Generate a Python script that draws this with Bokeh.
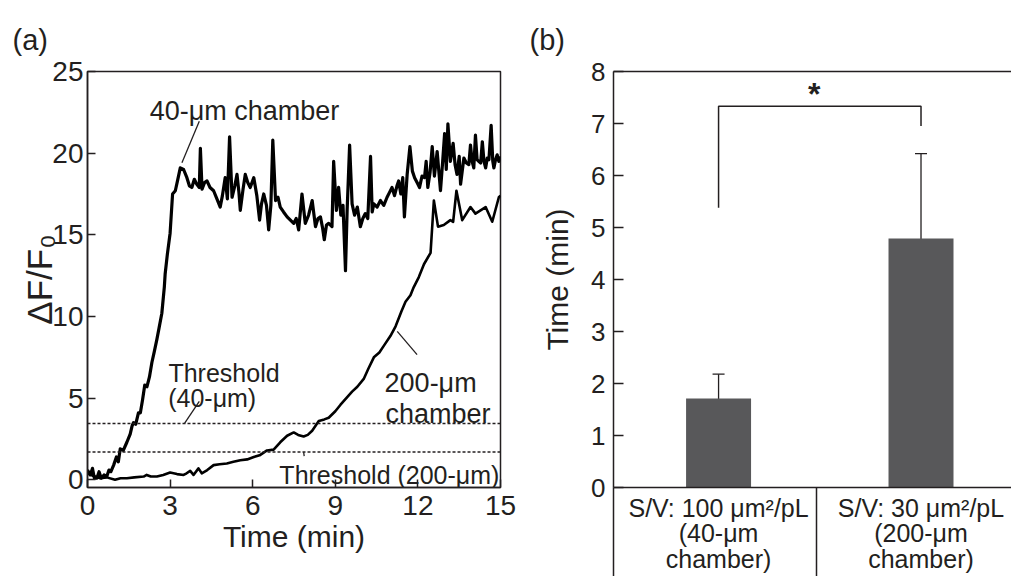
from bokeh.plotting import figure
from bokeh.models import (Range1d, FixedTicker, Span, ColumnDataSource,
                          Whisker, TeeHead, LinearAxis)
from bokeh.layouts import row
from bokeh.embed import file_html
from bokeh.resources import INLINE
from bokeh.core.properties import value

FONT = "Liberation Sans"
INK = "#231f20"

# ---------------- Panel (a) data ----------------
t_40 = [0.00, 0.10, 0.18, 0.25, 0.34, 0.42, 0.50, 0.60, 0.70, 0.78, 0.85, 0.95, 1.05, 1.12,
        1.19, 1.30, 1.43, 1.55, 1.62, 1.67, 1.75, 1.85, 1.92, 2.00, 2.08, 2.16, 2.25, 2.34,
        2.42, 2.52, 2.60, 2.70, 2.79, 2.82, 2.90, 3.00, 3.09, 3.19, 3.28, 3.37, 3.49, 3.61,
        3.70, 3.79, 3.88, 3.97, 4.06, 4.10, 4.16, 4.25, 4.34, 4.45, 4.58, 4.70, 4.82, 4.90,
        5.00, 5.08, 5.16, 5.25, 5.35, 5.43, 5.50, 5.55, 5.65, 5.73, 5.82, 5.91, 6.04, 6.15,
        6.25, 6.32, 6.40, 6.50, 6.58, 6.66, 6.73, 6.83, 6.92, 7.00, 7.12, 7.25, 7.37, 7.49,
        7.58, 7.67, 7.79, 7.91, 8.03, 8.16, 8.28, 8.37, 8.46, 8.54, 8.60, 8.68, 8.76, 8.88,
        8.94, 9.04, 9.12, 9.20, 9.28, 9.37, 9.43, 9.52, 9.61, 9.70, 9.80, 9.91, 10.00, 10.09,
        10.18, 10.28, 10.34, 10.40, 10.52, 10.64, 10.76, 10.88, 10.97, 11.06, 11.15, 11.24,
        11.30, 11.38, 11.45, 11.51, 11.61, 11.71, 11.80, 11.88, 11.97, 12.06, 12.15, 12.24,
        12.30, 12.36, 12.44, 12.52, 12.60, 12.70, 12.76, 12.82, 12.90, 12.97, 13.03, 13.09,
        13.18, 13.28, 13.35, 13.42, 13.50, 13.55, 13.67, 13.76, 13.85, 13.91, 13.97, 14.03,
        14.09, 14.15, 14.21, 14.28, 14.34, 14.40, 14.46, 14.52, 14.58, 14.66, 14.72, 14.76,
        14.82, 14.88, 14.94, 15.00]
f_40 = [0.6, 0.3, 0.7, 0.1, 0.1, 0.5, 0.1, 0.3, 0.2, 0.6, 0.5, 0.9, 1.4, 1.1,
        1.9, 1.8, 2.3, 2.8, 3.3, 3.5, 3.4, 4.1, 4.1, 4.9, 5.8, 5.7, 6.3, 7.2,
        7.8, 8.6, 9.3, 10.2, 11.8, 12.6, 13.8, 15.1, 17.5, 17.7, 18.4, 19.1, 19.0, 18.5,
        18.0, 17.9, 18.4, 18.1, 17.9, 20.3, 17.8, 18.2, 18.3, 17.9, 17.7, 17.2, 16.7, 17.4,
        18.5, 17.2, 21.0, 17.3, 18.0, 18.7, 17.6, 16.5, 17.8, 18.7, 18.2, 17.9, 18.5, 17.4,
        15.9, 16.9, 17.5, 16.8, 15.3, 16.8, 20.8, 17.1, 17.3, 16.7, 16.4, 16.1, 15.9, 15.7,
        16.0, 15.3, 17.5, 15.7, 16.2, 17.1, 15.5, 16.0, 16.1, 15.4, 14.7, 15.6, 15.7, 15.5,
        19.5, 16.5, 17.9, 16.2, 16.8, 12.8, 16.5, 20.5, 16.9, 16.2, 16.7, 15.5, 16.0, 16.3,
        16.0, 19.8, 16.4, 16.9, 16.7, 17.1, 16.8, 17.3, 17.6, 17.9, 17.4, 18.0,
        18.3, 17.5, 18.5, 16.1, 18.7, 20.4, 18.9, 18.5, 18.2, 17.9, 18.6, 18.5,
        19.5, 17.9, 18.8, 20.4, 18.6, 20.1, 18.9, 17.7, 19.5, 21.2, 19.0, 21.8,
        19.5, 20.6, 19.3, 18.7, 19.8, 18.1, 19.7, 19.4, 19.3, 20.5, 19.5, 19.1,
        21.1, 19.6, 19.5, 19.4, 20.7, 19.5, 19.1, 19.7, 19.6, 21.7, 19.5, 19.1,
        19.6, 19.9, 19.5, 19.8]

t_200 = [0.00, 0.20, 0.46, 0.70, 1.00, 1.20, 1.43, 1.70, 2.04, 2.15, 2.30, 2.52, 2.75, 3.00,
         3.25, 3.49, 3.60, 3.73, 3.85, 4.03, 4.15, 4.35, 4.58, 4.80, 5.06, 5.30, 5.55, 5.80,
         6.04, 6.25, 6.52, 6.76, 7.00, 7.25, 7.49, 7.65, 7.85, 8.00, 8.16, 8.40, 8.60, 8.76,
         9.00, 9.19, 9.40, 9.61, 9.80, 10.04, 10.20, 10.40, 10.60, 10.76, 11.00, 11.19, 11.40,
         11.55, 11.73, 11.85, 12.03, 12.22, 12.46, 12.58, 12.73, 12.94, 13.18, 13.28, 13.40,
         13.61, 13.91, 14.09, 14.46, 14.70, 14.94, 15.00]
f_200 = [0.40, 0.25, 0.10, 0.15, 0.00, 0.10, 0.10, 0.15, 0.20, 0.30, 0.20, 0.20, 0.30, 0.45,
         0.35, 0.30, 0.40, 0.55, 0.30, 0.70, 0.40, 0.60, 0.90, 0.95, 1.00, 1.10, 1.20, 1.25,
         1.40, 1.50, 1.80, 1.85, 2.30, 2.70, 2.90, 2.75, 2.65, 2.75, 3.00, 3.60, 3.70, 3.80,
         4.20, 4.60, 5.00, 5.40, 5.70, 6.20, 6.80, 7.50, 7.80, 8.20, 8.80, 9.40, 10.30,
         10.90, 11.30, 11.80, 12.40, 13.20, 13.90, 17.10, 15.50, 15.60, 15.90, 15.80, 17.70,
         15.90, 16.70, 16.30, 16.70, 15.80, 17.30, 17.40]

thresholds = [3.45, 1.70]
x_ticks_a = [0, 3, 6, 9, 12, 15]
y_ticks_a = [0, 5, 10, 15, 20, 25]

# ---------------- Panel (b) data ----------------
bar_x = [0, 1]
times = [1.71, 4.79]
err_low = [1.24, 3.12]
err_high = [2.18, 6.42]
y_ticks_b = [0, 1, 2, 3, 4, 5, 6, 7, 8]
cat_labels = ["S/V: 100 \u03bcm\u00b2/pL\n(40-\u03bcm\nchamber)",
              "S/V: 30 \u03bcm\u00b2/pL\n(200-\u03bcm\nchamber)"]
cell_edges = [-0.5185, 0.486]
bracket_x = [0, 0, 1, 1]
bracket_y = [5.38, 7.33, 7.33, 6.95]


def style_axis(ax, size):
    ax.axis_line_color = INK
    ax.axis_line_width = 1.5
    ax.major_tick_line_color = INK
    ax.major_tick_line_width = 1.5
    ax.major_tick_out = 0
    ax.minor_tick_line_color = None
    ax.major_label_text_font = FONT
    ax.major_label_text_font_size = size
    ax.major_label_text_color = INK
    ax.axis_label_text_font = FONT
    ax.axis_label_text_font_style = "normal"
    ax.axis_label_text_color = INK


def style_title(p, text, offset):
    p.title.text = text
    p.title.align = "left"
    p.title.vertical_align = "top"
    p.title.offset = offset
    p.title.standoff = 28
    p.title.text_font = FONT
    p.title.text_font_size = "29px"
    p.title.text_font_style = "normal"
    p.title.text_color = INK


# ---------------- Panel (a) ----------------
p1 = figure(width=520, height=576, x_range=Range1d(0, 15), y_range=Range1d(-0.47, 25),
            output_backend="svg", toolbar_location=None,
            min_border_left=87, min_border_right=20, min_border_top=71, min_border_bottom=87)
p1.grid.visible = False
p1.outline_line_color = INK
p1.outline_line_width = 1.5
p1.outline_line_alpha = 1.0
style_title(p1, "(a)", -75)

p1.xaxis.ticker = FixedTicker(ticks=x_ticks_a)
p1.yaxis.ticker = FixedTicker(ticks=y_ticks_a)
for ax in (p1.xaxis[0], p1.yaxis[0]):
    style_axis(ax, "28px")
    ax.major_tick_in = 8
p1.xaxis.axis_label = "Time (min)"
p1.xaxis.axis_label_text_font_size = "30px"
p1.xaxis.major_label_standoff = 8
p1.xaxis.axis_label_standoff = 2
p1.yaxis.axis_label = "\u0394F/F\u2080"
p1.yaxis.axis_label_text_font_size = "35px"
p1.yaxis.major_label_standoff = 4
p1.yaxis.axis_label_standoff = -10

for th in thresholds:
    p1.add_layout(Span(location=th, dimension="width", line_color=INK,
                       line_width=1.4, line_dash="3 2"))

p1.line(t_200, f_200, line_color="black", line_width=2.6, line_join="round")
p1.line(t_40, f_40, line_color="black", line_width=3.2, line_join="round")

# annotation leaders
p1.segment(x0=[4.06, 4.06, 11.25, 7.85], y0=[21.95, 4.8, 9.09, 1.70],
           x1=[3.43, 3.53, 11.97, 7.87], y1=[19.42, 3.47, 7.67, 1.45],
           line_color=INK, line_width=1.3)


def txt(fig, x, y, s, size, align="left", baseline="alphabetic"):
    fig.text(x=[x], y=[y], text=[s], text_font=value(FONT), text_font_size=size,
             text_color=INK, text_align=align, text_baseline=baseline)


txt(p1, 5.70, 22.56, "40-\u03bcm chamber", "27px", "center")
txt(p1, 2.94, 6.56, "Threshold", "25px")
txt(p1, 2.93, 5.00, "(40-\u03bcm)", "25px")
txt(p1, 10.79, 5.95, "200-\u03bcm", "27px")
txt(p1, 10.82, 4.03, "chamber", "27px")
txt(p1, 14.96, 0.28, "Threshold (200-\u03bcm)", "25px", "right")

# ---------------- Panel (b) ----------------
p2 = figure(width=491, height=576, x_range=Range1d(-0.519, 1.447), y_range=Range1d(0, 8),
            output_backend="svg", toolbar_location=None,
            min_border_left=93, min_border_right=0, min_border_top=71, min_border_bottom=87)
p2.grid.visible = False
p2.outline_line_color = None
style_title(p2, "(b)", -84)

p2.yaxis.ticker = FixedTicker(ticks=y_ticks_b)
style_axis(p2.yaxis[0], "26px")
p2.yaxis.major_tick_in = 10
p2.yaxis.major_label_standoff = 8
p2.yaxis.axis_label = "Time (min)"
p2.yaxis.axis_label_text_font_size = "30px"
p2.yaxis.axis_label_standoff = 14

xa = p2.xaxis[0]
style_axis(xa, "25px")
xa.ticker = FixedTicker(ticks=bar_x, minor_ticks=cell_edges)
xa.major_label_overrides = {bar_x[i]: cat_labels[i] for i in range(len(bar_x))}
xa.major_tick_in = 0
xa.major_tick_out = 0
xa.minor_tick_line_color = INK
xa.minor_tick_line_width = 1.5
xa.minor_tick_in = 0
xa.minor_tick_out = 90
xa.major_label_standoff = -84
xa.major_label_text_line_height = 0.92

top_axis = LinearAxis(ticker=FixedTicker(ticks=[]), major_label_text_font_size="0px",
                      major_label_standoff=0,
                      axis_line_color=INK, axis_line_width=1.5,
                      major_tick_line_color=None, minor_tick_line_color=None)
p2.add_layout(top_axis, "above")

p2.vbar(x=bar_x, top=times, bottom=0, width=0.321, fill_color="#58585a", line_color=None)

src = ColumnDataSource(data=dict(x=bar_x, lower=err_low, upper=err_high))
p2.add_layout(Whisker(source=src, base="x", lower="lower", upper="upper",
                      line_color=INK, line_width=1.3,
                      upper_head=TeeHead(size=12, line_color=INK, line_width=1.3),
                      lower_head=TeeHead(size=12, line_color=INK, line_width=1.3)))

p2.line(bracket_x, bracket_y, line_color=INK, line_width=1.5)
p2.text(x=[0.473], y=[7.22], text=["*"], text_font=value(FONT), text_font_size="32px",
        text_font_style="bold", text_color=INK, text_align="center")

layout = row(p1, p2)
open("out.html", "w").write(file_html(layout, INLINE))
